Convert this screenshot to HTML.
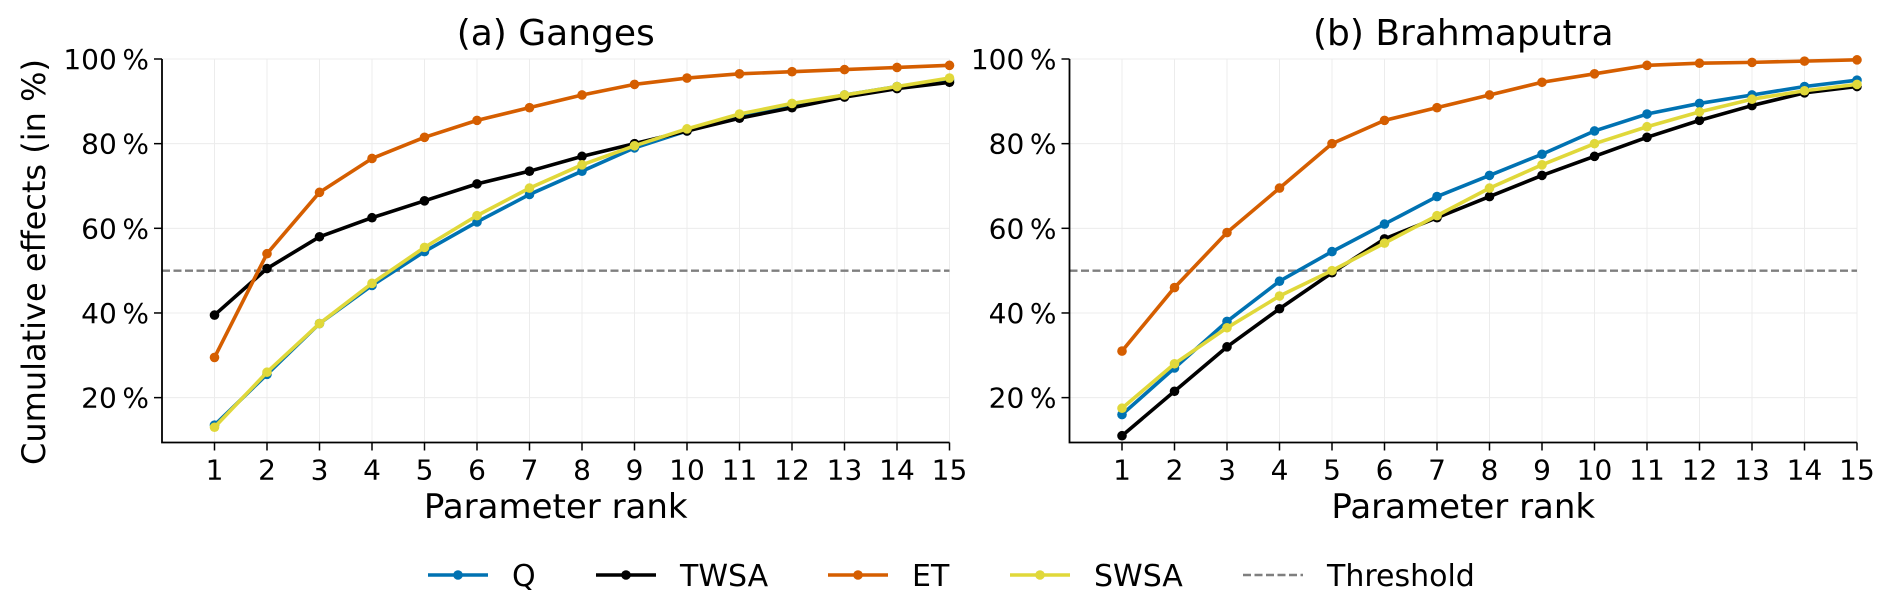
<!DOCTYPE html>
<html><head><meta charset="utf-8"><style>
body{margin:0;background:#fff;}
svg{display:block;font-family:"DejaVu Sans","Liberation Sans",sans-serif;}
</style></head><body>
<svg id="chart" width="1892" height="608" viewBox="0 0 1892 608"></svg>
<script>
const ranks = [1,2,3,4,5,6,7,8,9,10,11,12,13,14,15];
const yTicks = [20,40,60,80,100];
const yTickLabels = ["20\u2009%","40\u2009%","60\u2009%","80\u2009%","100\u2009%"];
const threshold = 50;
const gangesQ = [13.5,25.5,37.5,46.5,54.5,61.5,68,73.5,79,83,86.5,89,91.5,93.5,95];
const gangesTWSA = [39.5,50.5,58,62.5,66.5,70.5,73.5,77,80,83,86,88.5,91,93,94.5];
const gangesET = [29.5,54,68.5,76.5,81.5,85.5,88.5,91.5,94,95.5,96.5,97,97.5,98,98.5];
const gangesSWSA = [13,26,37.5,47,55.5,63,69.5,75,79.5,83.5,87,89.5,91.5,93.5,95.5];
const brahQ = [16,27,38,47.5,54.5,61,67.5,72.5,77.5,83,87,89.5,91.5,93.5,95];
const brahTWSA = [11,21.5,32,41,49.5,57.5,62.5,67.5,72.5,77,81.5,85.5,89,92,93.5];
const brahET = [31,46,59,69.5,80,85.5,88.5,91.5,94.5,96.5,98.5,99,99.2,99.5,99.8];
const brahSWSA = [17.5,28,36.5,44,50,56.5,63,69.5,75,80,84,87.5,90.5,92.5,94];
const seriesNames = ["Q","TWSA","ET","SWSA"];
const colors = {Q:"#0072b2",TWSA:"#000000",ET:"#d55e00",SWSA:"#e0d83a"};

const svg = document.getElementById('chart');
const NS = "http://www.w3.org/2000/svg";
function mk(tag, attrs, parent){const e=document.createElementNS(NS,tag);for(const k in attrs)e.setAttribute(k,attrs[k]);(parent||svg).appendChild(e);return e;}

const yTop=59, yBot=442.5, yMin=9.4, yMax=100;
function Y(v){return yBot-(v-yMin)/(yMax-yMin)*(yBot-yTop);}

const panels=[
 {left:162,title:"(a) Ganges",name:"ganges",data:{Q:gangesQ,TWSA:gangesTWSA,ET:gangesET,SWSA:gangesSWSA}},
 {left:1069.5,title:"(b) Brahmaputra",name:"brahmaputra",data:{Q:brahQ,TWSA:brahTWSA,ET:brahET,SWSA:brahSWSA}}
];
const step=52.5;
panels.forEach(p=>{
  const X=r=>p.left+r*step;
  const right=X(15);
  const g=mk('g',{});
  
  
  ranks.forEach(r=>{const l=mk('line',{x1:X(r),x2:X(r),y1:yTop,y2:yBot,stroke:'#ececec','stroke-width':1},g);
    });
  yTicks.forEach(v=>{const l=mk('line',{x1:p.left,x2:right,y1:Y(v),y2:Y(v),stroke:'#ececec','stroke-width':1},g);
    });
  const th=mk('line',{x1:p.left,x2:right,y1:Y(threshold),y2:Y(threshold),stroke:'#7f7f7f','stroke-width':2.4,'stroke-dasharray':'8,3.5'},g);
  
  seriesNames.forEach(s=>{
    const vals=p.data[s];
    const pts=vals.map((v,i)=>X(ranks[i])+','+Y(v)).join(' ');
    const pl=mk('polyline',{points:pts,fill:'none',stroke:colors[s],'stroke-width':3.6,'stroke-linejoin':'round'},g);
    
    vals.forEach((v,i)=>{const c=mk('circle',{cx:X(ranks[i]),cy:Y(v),r:4.8,fill:colors[s]},g);
      });
  });
  const ax=mk('path',{d:`M${p.left},${yTop}V${yBot}H${right}`,fill:'none',stroke:'#000','stroke-width':1.8},g);
  
  ranks.forEach(r=>{mk('line',{x1:X(r),x2:X(r),y1:yBot,y2:yBot+8,stroke:'#000','stroke-width':1.5},g);
    const t=mk('text',{x:X(r),y:yBot+37,'text-anchor':'middle','font-size':28},g);t.textContent=r;
    });
  yTicks.forEach((v,i)=>{mk('line',{x1:p.left-8,x2:p.left,y1:Y(v),y2:Y(v),stroke:'#000','stroke-width':1.5},g);
    const t=mk('text',{x:p.left-13,y:Y(v)+10,'text-anchor':'end','font-size':28},g);t.textContent=yTickLabels[i];
    });
  const xl=mk('text',{x:(p.left+right)/2,y:518,'text-anchor':'middle','font-size':34},g);xl.textContent='Parameter rank';
  
  const tt=mk('text',{x:(p.left+right)/2,y:45,'text-anchor':'middle','font-size':36},g);tt.textContent=p.title;
  
});
const yl=mk('text',{x:0,y:0,'text-anchor':'middle','font-size':32,transform:'translate(45,262) rotate(-90)'});
yl.textContent='Cumulative effects (in %)';



const legX=[428,596,828,1010,1243];
const legNames=["Q","TWSA","ET","SWSA","Threshold"];
const ly=575;
legNames.forEach((n,i)=>{
  const g=mk('g',{});
  
  
  if(n==="Threshold"){mk('line',{x1:legX[i],x2:legX[i]+60,y1:ly,y2:ly,stroke:'#7f7f7f','stroke-width':2.4,'stroke-dasharray':'8,3.5'},g);}
  else{mk('line',{x1:legX[i],x2:legX[i]+60,y1:ly,y2:ly,stroke:colors[n],'stroke-width':3.6},g);
    mk('circle',{cx:legX[i]+30,cy:ly,r:4.8,fill:colors[n]},g);}
  const t=mk('text',{x:legX[i]+84,y:ly+11,'font-size':30},g);t.textContent=n;
});
</script>
</body></html>
